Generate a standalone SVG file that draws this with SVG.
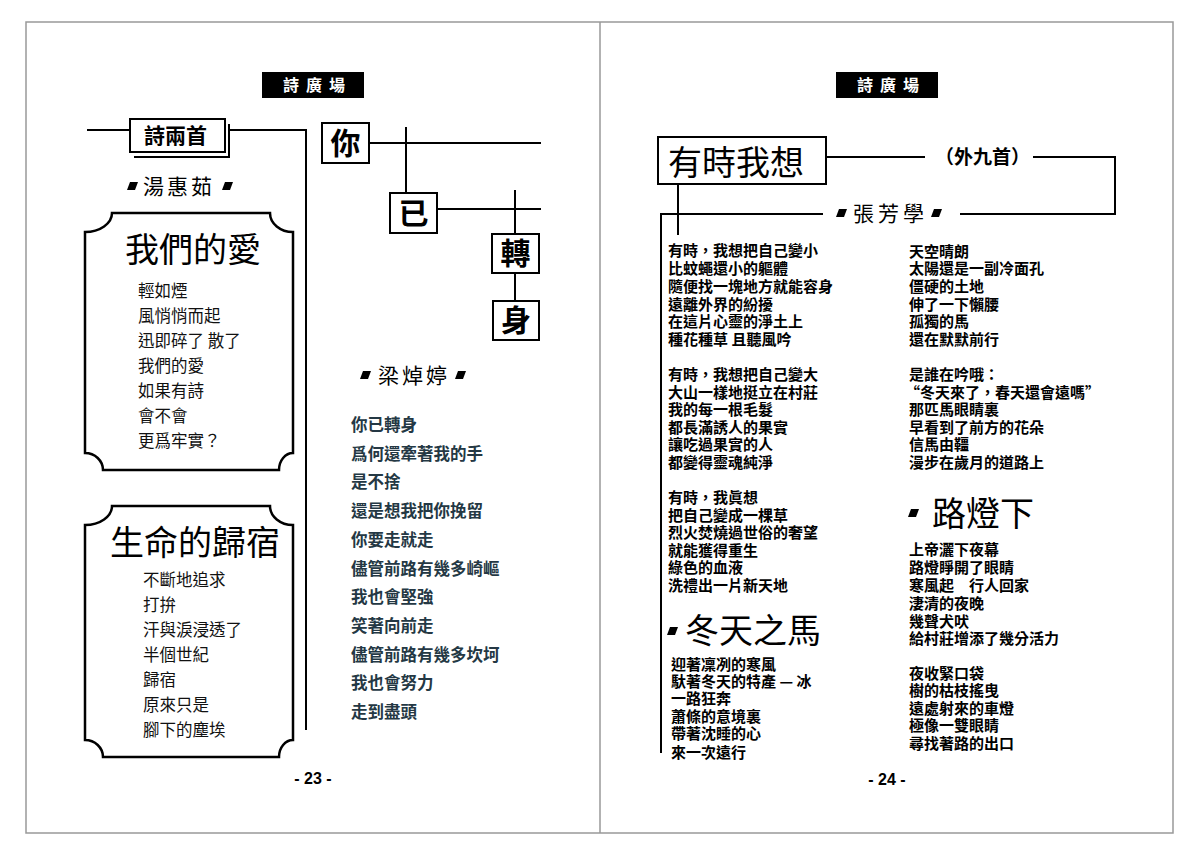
<svg xmlns="http://www.w3.org/2000/svg" width="1200" height="856" viewBox="0 0 1200 856">
<style>
.cjk{font-family:"Noto Sans CJK TC","Noto Sans CJK SC",sans-serif}
.ln{stroke:#000;stroke-width:2;fill:none}
.pg{stroke:#999;stroke-width:1.5;fill:none}
.hdr{font-family:"Noto Sans CJK TC",sans-serif;font-weight:700;font-size:16px;fill:#fff;letter-spacing:7px}
.p1{font-family:"Noto Sans CJK TC",sans-serif;font-size:16.5px;fill:#111}
.p2{font-family:"Noto Sans CJK TC",sans-serif;font-size:16.5px;fill:#243844;font-weight:700}
.p3{font-family:"Noto Sans CJK TC",sans-serif;font-size:15px;fill:#000;font-weight:700}
.au{font-family:"Noto Sans CJK TC",sans-serif;font-size:21px;fill:#000;letter-spacing:3px}
.ttl{font-family:"Noto Sans CJK TC",sans-serif;font-size:34px;fill:#000}
.box{fill:#fff;stroke:#000;stroke-width:2}
.bc{font-family:"Noto Sans CJK TC",sans-serif;font-size:30px;font-weight:700;fill:#000;text-anchor:middle}
.num{font-family:"Liberation Sans",Arial,sans-serif;font-size:16px;font-weight:700;fill:#000;text-anchor:middle}
</style>
<defs>
<path id="mk" d="M3,0 H11 L8,8 H0 Z" fill="#000"/>
</defs>
<rect width="1200" height="856" fill="#fff"/>
<g id="pages">
<rect class="pg" x="26" y="22" width="1147" height="811"/>
<line class="pg" x1="600" y1="22" x2="600" y2="833"/>
</g>

<!-- LEFT PAGE -->
<g id="header-left">
<rect x="262" y="72" width="102" height="26" fill="#000"/>
<text class="hdr" x="283" y="91">詩廣場</text>
</g>

<g id="connectors">
<path class="ln" d="M87,130 H130 M229,130 H306 V730"/>
<path class="ln" d="M369,143 H541 M406,127 V193 M437,209 H541 M515,190 V234 M515,273 V301"/>
<path class="ln" d="M826,157 H925 M1033,157 H1115 V214 H960 M823,214 H661 V753 M678,184 V235"/>
</g>

<g id="title-two-poems">
<path class="ln" d="M134,157 H229 V124"/>
<rect class="box" x="130" y="119" width="95" height="33"/>
<text class="cjk" x="144" y="143" font-size="21" font-weight="700">詩兩首</text>
</g>

<g id="author-tang">
<use href="#mk" x="127" y="182"/>
<text class="au" x="143" y="194">湯惠茹</text>
<use href="#mk" x="222" y="182"/>
</g>

<g id="poem-our-love">
<path d="M112,213 H270 A23,19 0 0 0 293,232 V453 A14,17 0 0 0 279,470 H103 A18,17 0 0 0 85,453 V232 A27,19 0 0 0 112,213 Z" fill="none" stroke="#000" stroke-width="2.5"/>
<text class="ttl" x="125" y="262" font-size="33">我們的愛</text>
<text class="p1" x="138" y="297">輕如煙</text>
<text class="p1" x="138" y="322">風悄悄而起</text>
<text class="p1" x="138" y="347">迅即碎了 散了</text>
<text class="p1" x="138" y="372">我們的愛</text>
<text class="p1" x="138" y="397">如果有詩</text>
<text class="p1" x="138" y="422">會不會</text>
<text class="p1" x="138" y="447">更爲牢實？</text>
</g>

<g id="poem-life">
<path d="M112,506 H270 A23,19 0 0 0 293,525 V740 A14,17 0 0 0 279,757 H103 A18,17 0 0 0 85,740 V525 A27,19 0 0 0 112,506 Z" fill="none" stroke="#000" stroke-width="2.5"/>
<text class="ttl" x="110" y="555" font-size="33">生命的歸宿</text>
<text class="p1" x="143" y="586">不斷地追求</text>
<text class="p1" x="143" y="611">打拚</text>
<text class="p1" x="143" y="636">汗與淚浸透了</text>
<text class="p1" x="143" y="661">半個世紀</text>
<text class="p1" x="143" y="686">歸宿</text>
<text class="p1" x="143" y="711">原來只是</text>
<text class="p1" x="143" y="736">腳下的塵埃</text>
</g>

<g id="box-ni">
<rect class="box" x="322" y="123" width="47" height="40"/>
<text class="bc" x="345.5" y="154">你</text>
</g>
<g id="box-yi">
<rect class="box" x="390" y="193" width="47" height="40"/>
<text class="bc" x="413.5" y="224">已</text>
</g>
<g id="box-zhuan">
<rect class="box" x="492" y="234" width="47" height="39"/>
<text class="bc" x="515.5" y="264">轉</text>
</g>
<g id="box-shen">
<rect class="box" x="493" y="301" width="46" height="39"/>
<text class="bc" x="516" y="331">身</text>
</g>

<g id="author-liang">
<use href="#mk" x="360" y="371"/>
<text class="au" x="378" y="383">梁焯婷</text>
<use href="#mk" x="455" y="371"/>
</g>

<g id="poem-turned">
<text class="p2" x="351" y="431">你已轉身</text>
<text class="p2" x="351" y="460">爲何還牽著我的手</text>
<text class="p2" x="351" y="488">是不捨</text>
<text class="p2" x="351" y="517">還是想我把你挽留</text>
<text class="p2" x="351" y="546">你要走就走</text>
<text class="p2" x="351" y="575">儘管前路有幾多崎嶇</text>
<text class="p2" x="351" y="603">我也會堅強</text>
<text class="p2" x="351" y="632">笑著向前走</text>
<text class="p2" x="351" y="661">儘管前路有幾多坎坷</text>
<text class="p2" x="351" y="689">我也會努力</text>
<text class="p2" x="351" y="718">走到盡頭</text>
</g>

<text class="num" x="313" y="784">- 23 -</text>

<!-- RIGHT PAGE -->
<g id="header-right">
<rect x="836" y="72" width="102" height="26" fill="#000"/>
<text class="hdr" x="857" y="91">詩廣場</text>
</g>

<g id="title-sometimes">
<rect class="box" x="658" y="137" width="168" height="47"/>
<text class="ttl" x="668" y="175">有時我想</text>
</g>
<text class="cjk" x="935" y="164" font-size="19" font-weight="700">（外九首）</text>

<g id="author-zhang">
<use href="#mk" x="836" y="209"/>
<text class="au" x="853" y="221" style="letter-spacing:4px">張芳學</text>
<use href="#mk" x="931" y="209"/>
</g>

<g id="poem-col1">
<text class="p3" x="668" y="256">有時，我想把自己變小</text>
<text class="p3" x="668" y="274">比蚊蠅還小的軀體</text>
<text class="p3" x="668" y="292">隨便找一塊地方就能容身</text>
<text class="p3" x="668" y="310">遠離外界的紛擾</text>
<text class="p3" x="668" y="327">在這片心靈的淨土上</text>
<text class="p3" x="668" y="345">種花種草 且聽風吟</text>
<text class="p3" x="668" y="380">有時，我想把自己變大</text>
<text class="p3" x="668" y="398">大山一樣地挺立在村莊</text>
<text class="p3" x="668" y="415">我的每一根毛髮</text>
<text class="p3" x="668" y="433">都長滿誘人的果實</text>
<text class="p3" x="668" y="450">讓吃過果實的人</text>
<text class="p3" x="668" y="468">都變得靈魂純淨</text>
<text class="p3" x="668" y="503">有時，我眞想</text>
<text class="p3" x="668" y="521">把自己變成一棵草</text>
<text class="p3" x="668" y="538">烈火焚燒過世俗的奢望</text>
<text class="p3" x="668" y="556">就能獲得重生</text>
<text class="p3" x="668" y="573">綠色的血液</text>
<text class="p3" x="668" y="591">洗禮出一片新天地</text>
</g>

<g id="poem-winter-horse">
<use href="#mk" x="667" y="627"/>
<text class="ttl" x="685" y="643">冬天之馬</text>
<text class="p3" x="671" y="670">迎著凜冽的寒風</text>
<text class="p3" x="671" y="687">馱著冬天的特產 — 冰</text>
<text class="p3" x="671" y="704">一路狂奔</text>
<text class="p3" x="671" y="722">蕭條的意境裏</text>
<text class="p3" x="671" y="739">帶著沈睡的心</text>
<text class="p3" x="671" y="758">來一次遠行</text>
</g>

<g id="poem-col2">
<text class="p3" x="909" y="257">天空晴朗</text>
<text class="p3" x="909" y="274">太陽還是一副冷面孔</text>
<text class="p3" x="909" y="292">僵硬的土地</text>
<text class="p3" x="909" y="310">伸了一下懶腰</text>
<text class="p3" x="909" y="327">孤獨的馬</text>
<text class="p3" x="909" y="345">還在默默前行</text>
<text class="p3" x="909" y="380">是誰在吟哦：</text>
<text class="p3" x="905" y="398">“冬天來了，春天還會遠嗎”</text>
<text class="p3" x="909" y="415">那匹馬眼睛裏</text>
<text class="p3" x="909" y="433">早看到了前方的花朵</text>
<text class="p3" x="909" y="450">信馬由韁</text>
<text class="p3" x="909" y="468">漫步在歲月的道路上</text>
</g>

<g id="poem-streetlight">
<use href="#mk" x="908" y="509"/>
<text class="ttl" x="932" y="526">路燈下</text>
<text class="p3" x="909" y="555">上帝灑下夜幕</text>
<text class="p3" x="909" y="573">路燈睜開了眼睛</text>
<text class="p3" x="909" y="591">寒風起　行人回家</text>
<text class="p3" x="909" y="609">淒清的夜晚</text>
<text class="p3" x="909" y="627">幾聲犬吠</text>
<text class="p3" x="909" y="644">給村莊增添了幾分活力</text>
<text class="p3" x="909" y="679">夜收緊口袋</text>
<text class="p3" x="909" y="696">樹的枯枝搖曳</text>
<text class="p3" x="909" y="714">遠處射來的車燈</text>
<text class="p3" x="909" y="731">極像一雙眼睛</text>
<text class="p3" x="909" y="749">尋找著路的出口</text>
</g>

<text class="num" x="887" y="785">- 24 -</text>
</svg>
